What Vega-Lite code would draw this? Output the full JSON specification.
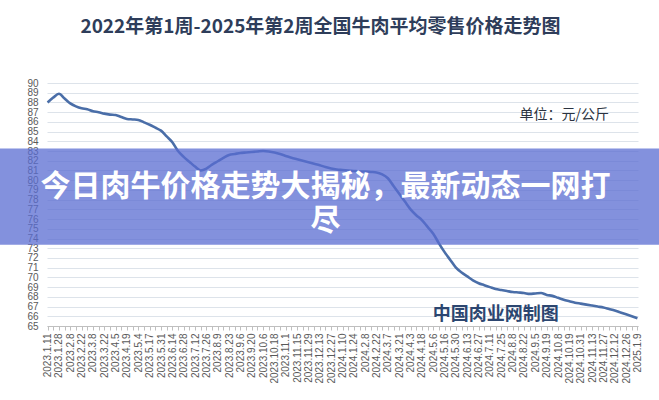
{
  "$schema": "https://vega.github.io/schema/vega-lite/v6.json",
  "width": 591,
  "height": 243,
  "autosize": {"type": "none"},
  "padding": {"left": 47, "top": 83, "right": 21, "bottom": 74},
  "background": "#ffffff",
  "title": {
    "text": "2022年第1周-2025年第2周全国牛肉平均零售价格走势图",
    "font": "Noto Sans CJK SC",
    "fontSize": 19,
    "fontWeight": "bold",
    "color": "#2e3d5a",
    "anchor": "middle",
    "baseline": "middle",
    "offset": 32,
    "dx": -22
  },
  "config": {
    "view": {"stroke": null},
    "axis": {"labelFont": "Liberation Sans", "labelColor": "#595959"}
  },
  "data": {
    "values": [
      {"week": "2023.1.11", "price": 88.0},
      {"week": "2023.1.18", "price": 88.5},
      {"week": "2023.1.28", "price": 88.9},
      {"week": "2023.2.1", "price": 88.4},
      {"week": "2023.2.8", "price": 87.9},
      {"week": "2023.2.15", "price": 87.6},
      {"week": "2023.2.22", "price": 87.4},
      {"week": "2023.3.1", "price": 87.3},
      {"week": "2023.3.8", "price": 87.1},
      {"week": "2023.3.15", "price": 87.0},
      {"week": "2023.3.22", "price": 86.85},
      {"week": "2023.3.29", "price": 86.75},
      {"week": "2023.4.5", "price": 86.7},
      {"week": "2023.4.12", "price": 86.5},
      {"week": "2023.4.19", "price": 86.3},
      {"week": "2023.4.26", "price": 86.25},
      {"week": "2023.5.4", "price": 86.2},
      {"week": "2023.5.10", "price": 85.95},
      {"week": "2023.5.17", "price": 85.7},
      {"week": "2023.5.24", "price": 85.4},
      {"week": "2023.5.31", "price": 85.1},
      {"week": "2023.6.7", "price": 84.5},
      {"week": "2023.6.14", "price": 83.9},
      {"week": "2023.6.21", "price": 83.0},
      {"week": "2023.6.28", "price": 82.4},
      {"week": "2023.7.5", "price": 81.9},
      {"week": "2023.7.12", "price": 81.4},
      {"week": "2023.7.19", "price": 81.0},
      {"week": "2023.7.26", "price": 81.2},
      {"week": "2023.8.2", "price": 81.6},
      {"week": "2023.8.9", "price": 81.95},
      {"week": "2023.8.16", "price": 82.3},
      {"week": "2023.8.23", "price": 82.6},
      {"week": "2023.8.30", "price": 82.7},
      {"week": "2023.9.6", "price": 82.8},
      {"week": "2023.9.13", "price": 82.85},
      {"week": "2023.9.20", "price": 82.9},
      {"week": "2023.9.27", "price": 82.95},
      {"week": "2023.10.6", "price": 83.0},
      {"week": "2023.10.11", "price": 82.95},
      {"week": "2023.10.18", "price": 82.85},
      {"week": "2023.10.25", "price": 82.7},
      {"week": "2023.11.1", "price": 82.5},
      {"week": "2023.11.8", "price": 82.3},
      {"week": "2023.11.15", "price": 82.15},
      {"week": "2023.11.22", "price": 82.0},
      {"week": "2023.11.29", "price": 81.85},
      {"week": "2023.12.6", "price": 81.7},
      {"week": "2023.12.13", "price": 81.55},
      {"week": "2023.12.20", "price": 81.35},
      {"week": "2023.12.27", "price": 81.2},
      {"week": "2024.1.3", "price": 81.1},
      {"week": "2024.1.10", "price": 81.05},
      {"week": "2024.1.17", "price": 81.0},
      {"week": "2024.1.24", "price": 80.95},
      {"week": "2024.1.31", "price": 80.9},
      {"week": "2024.2.8", "price": 80.9},
      {"week": "2024.2.15", "price": 80.85},
      {"week": "2024.2.22", "price": 80.8},
      {"week": "2024.2.29", "price": 80.6},
      {"week": "2024.3.7", "price": 80.2},
      {"week": "2024.3.14", "price": 79.4},
      {"week": "2024.3.21", "price": 78.6},
      {"week": "2024.3.28", "price": 77.8},
      {"week": "2024.4.3", "price": 77.0},
      {"week": "2024.4.11", "price": 76.4},
      {"week": "2024.4.18", "price": 75.9},
      {"week": "2024.4.25", "price": 75.2},
      {"week": "2024.5.6", "price": 74.5},
      {"week": "2024.5.9", "price": 73.5},
      {"week": "2024.5.16", "price": 72.6},
      {"week": "2024.5.23", "price": 71.8},
      {"week": "2024.5.30", "price": 71.0},
      {"week": "2024.6.6", "price": 70.5},
      {"week": "2024.6.13", "price": 70.1},
      {"week": "2024.6.20", "price": 69.7},
      {"week": "2024.6.27", "price": 69.4},
      {"week": "2024.7.4", "price": 69.2},
      {"week": "2024.7.11", "price": 69.0},
      {"week": "2024.7.18", "price": 68.8},
      {"week": "2024.7.25", "price": 68.7},
      {"week": "2024.8.1", "price": 68.6},
      {"week": "2024.8.8", "price": 68.5},
      {"week": "2024.8.15", "price": 68.45},
      {"week": "2024.8.22", "price": 68.4},
      {"week": "2024.8.29", "price": 68.3},
      {"week": "2024.9.5", "price": 68.35},
      {"week": "2024.9.12", "price": 68.4},
      {"week": "2024.9.19", "price": 68.2},
      {"week": "2024.9.26", "price": 68.1},
      {"week": "2024.10.8", "price": 67.9},
      {"week": "2024.10.12", "price": 67.7},
      {"week": "2024.10.19", "price": 67.55},
      {"week": "2024.10.24", "price": 67.4},
      {"week": "2024.10.31", "price": 67.3},
      {"week": "2024.11.7", "price": 67.2},
      {"week": "2024.11.13", "price": 67.1},
      {"week": "2024.11.20", "price": 67.0},
      {"week": "2024.11.27", "price": 66.9},
      {"week": "2024.12.5", "price": 66.75},
      {"week": "2024.12.12", "price": 66.6},
      {"week": "2024.12.19", "price": 66.4},
      {"week": "2024.12.26", "price": 66.2},
      {"week": "2025.1.2", "price": 66.0},
      {"week": "2025.1.9", "price": 65.8}
    ]
  },
  "encoding": {
    "x": {
      "field": "week",
      "type": "ordinal",
      "sort": null,
      "scale": {"type": "point", "padding": 0.1},
      "axis": {
        "title": null,
        "labelAngle": 270,
        "labelAlign": "right",
        "labelBaseline": "middle",
        "labelFontSize": 10,
        "labelPadding": 3,
        "labelOverlap": false,
        "tickColor": "#bfbfbf",
        "tickSize": 4,
        "domainColor": "#bfbfbf",
        "grid": false,
        "labelExpr": "indexof(['2023.1.11','2023.1.28','2023.2.8','2023.2.22','2023.3.8','2023.3.22','2023.4.5','2023.4.19','2023.5.4','2023.5.17','2023.5.31','2023.6.14','2023.6.28','2023.7.12','2023.7.26','2023.8.9','2023.8.23','2023.9.6','2023.9.20','2023.10.6','2023.10.18','2023.11.1','2023.11.15','2023.11.29','2023.12.13','2023.12.27','2024.1.10','2024.1.24','2024.2.8','2024.2.22','2024.3.7','2024.3.21','2024.4.3','2024.4.18','2024.5.6','2024.5.16','2024.5.30','2024.6.13','2024.6.27','2024.7.11','2024.7.25','2024.8.8','2024.8.22','2024.9.5','2024.9.19','2024.10.8','2024.10.19','2024.10.31','2024.11.13','2024.11.27','2024.12.12','2024.12.26','2025.1.9'], datum.value) >= 0 ? datum.label : ''"
      }
    },
    "y": {
      "field": "price",
      "type": "quantitative",
      "scale": {"domain": [65, 90], "nice": false, "zero": false},
      "axis": {
        "title": null,
        "values": [65,66,67,68,69,70,71,72,73,74,75,76,77,78,79,80,81,82,83,84,85,86,87,88,89,90],
        "labelOverlap": false,
        "labelFontSize": 10,
        "labelPadding": 9,
        "ticks": false,
        "domain": false,
        "gridColor": "#dde3ea",
        "gridWidth": 1
      }
    }
  },
  "layer": [
    {
      "mark": {"type": "line", "color": "#4a6ea8", "strokeWidth": 2.6, "interpolate": "monotone"}
    },
    {
      "transform": [{"filter": "datum.week == '2024.12.5'"}],
      "mark": {"type": "text", "align": "right", "baseline": "middle", "font": "Noto Sans CJK SC", "fontSize": 14, "color": "#2b3340"},
      "encoding": {
        "y": {"datum": 86.7, "type": "quantitative"},
        "text": {"value": "单位：元/公斤"}
      }
    },
    {
      "transform": [{"filter": "datum.week == '2024.7.18'"}],
      "mark": {"type": "text", "align": "center", "baseline": "middle", "font": "Noto Sans CJK SC", "fontSize": 18, "fontWeight": "bold", "color": "#2c4670"},
      "encoding": {
        "y": {"datum": 66.1, "type": "quantitative"},
        "text": {"value": "中国肉业网制图"}
      }
    },
    {
      "transform": [{"filter": "datum.week == '2023.1.11'"}],
      "mark": {"type": "rect", "color": "#5a6cd2", "opacity": 0.75},
      "encoding": {
        "x": {"value": -47},
        "x2": {"value": 612},
        "y": {"datum": 83.25, "type": "quantitative"},
        "y2": {"datum": 73.35}
      }
    },
    {
      "transform": [{"filter": "datum.week == '2023.12.20'"}],
      "mark": {"type": "text", "align": "center", "baseline": "middle", "font": "Noto Sans CJK SC", "fontSize": 30, "fontWeight": "bold", "color": "#ffffff", "lineBreak": "\n", "lineHeight": 34},
      "encoding": {
        "y": {"datum": 79.3, "type": "quantitative"},
        "text": {"value": "今日肉牛价格走势大揭秘，最新动态一网打\n尽"}
      }
    }
  ]
}
